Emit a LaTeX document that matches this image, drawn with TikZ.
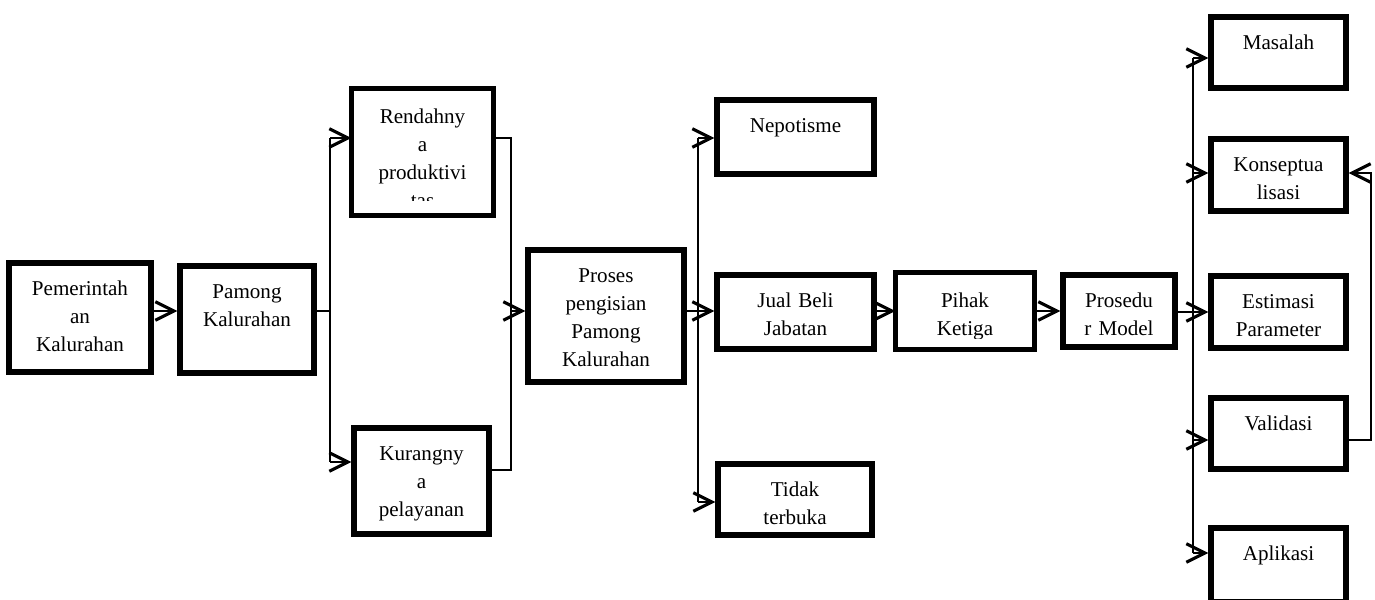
\documentclass[tikz,border=0pt]{standalone}
\usepackage{fontspec}
\setmainfont{Liberation Serif}
\usepackage{tikz}
\usetikzlibrary{arrows.meta}

\tikzset{
  bx/.style 2 args={draw, line width=3pt, inner sep=0pt, align=center,
    text width=#1, text height=0.64cm, text depth=#2},
  ln/.style={line width=0.9pt},
  arr/.style={ln, -{Straight Barb[length=0.37cm,width=0.37cm,line width=1.8pt]}}
}

\begin{document}
\begin{tikzpicture}[x=0.02cm,y=-0.02cm,font=\fontsize{12}{16.1}\selectfont]
\useasboundingbox (0,0) rectangle (1375,599);
% kolom kiri
\node[bx={2.84cm}{1.54cm}] (pem) at (80,317.5) {Pemerintah\\an\\Kalurahan};
\node[bx={2.68cm}{1.50cm}] (pam) at (247,319.5) {Pamong\\Kalurahan};
\begin{scope}
  \clip (340,80) rectangle (505,200.5);
  \node[bx={2.74cm}{1.80cm}, draw=none] (rend) at (422.5,152) {Rendahny\\a\\produktivi\\tas};
\end{scope}
\draw[line width=3pt] (rend.south west) rectangle (rend.north east);
\node[bx={2.70cm}{1.48cm}] (kur) at (421.5,481) {Kurangny\\a\\pelayanan};
\node[bx={3.12cm}{2.00cm}] (pros) at (606,316) {Proses\\pengisian\\Pamong\\Kalurahan};
% kolom tengah
\node[bx={3.14cm}{0.84cm}] (nep) at (795.5,137) {Nepotisme};
\node[bx={3.14cm}{0.84cm}] (jual) at (795.5,312) {Jual Beli\\Jabatan};
\node[bx={3.08cm}{0.78cm}] (tid) at (795,499.5) {Tidak\\terbuka};
\begin{scope}
  \clip (880,260) rectangle (1050,338.5);
  \node[bx={2.68cm}{0.80cm}, draw=none] (pih) at (965,311) {Pihak\\Ketiga};
\end{scope}
\draw[line width=3pt] (pih.south west) rectangle (pih.north east);
\node[bx={2.24cm}{0.80cm}] (pro) at (1119,311) {Prosedu\\r Model};
% kolom kanan
\node[bx={2.70cm}{0.78cm}] (mas) at (1278.5,52.5) {Masalah};
\node[bx={2.70cm}{0.80cm}] (kon) at (1278.5,175) {Konseptua\\lisasi};
\node[bx={2.70cm}{0.80cm}] (est) at (1278.5,312) {Estimasi\\Parameter};
\node[bx={2.70cm}{0.78cm}] (val) at (1278.5,433.5) {Validasi};
\node[bx={2.70cm}{0.84cm}] (apl) at (1278.5,565) {Aplikasi};

% titik cabang
\coordinate (a1) at (330,311);
\coordinate (a2) at (330,138);
\coordinate (a3) at (330,462);
\coordinate (b1) at (511,138);
\coordinate (b2) at (511,470);
\coordinate (b3) at (511,311);
\coordinate (c1) at (698,311);
\coordinate (c2) at (698,138);
\coordinate (c3) at (698,502);
\coordinate (f1) at (1371,440);
\coordinate (f2) at (1371,173);

\draw[arr] (pem.east |- a1) -- (pam.west |- a1);
\draw[ln] (pam.east |- a1) -- (a1);
\draw[ln] (a2) -- (a3);
\draw[arr] (a2) -- (a2 -| rend.west);
\draw[arr] (a3) -- (a3 -| kur.west);
\draw[ln] (b1 -| rend.east) -- (b1) -- (b2) -- (b2 -| kur.east);
\draw[arr] (b3) -- (b3 -| pros.west);
\draw[ln] (pros.east |- c1) -- (c1);
\draw[ln] (c2) -- (c3);
\draw[arr] (c2) -- (c2 -| nep.west);
\draw[arr] (c1) -- (c1 -| jual.west);
\draw[arr] (c3) -- (c3 -| tid.west);
\draw[arr] (jual.east |- c1) -- (pih.west |- c1);
\draw[arr] (pih.east |- c1) -- (pro.west |- c1);
\foreach \n/\y in {mas/58,kon/173,est/312,val/440,apl/553}{
  \coordinate (e-\n) at (1193,\y);
  \draw[arr] (e-\n) -- (e-\n -| \n.west);
}
\draw[ln] (e-mas) -- (e-apl);
\draw[ln] (pro.east |- e-est) -- (e-est);
\draw[arr] (val.east |- f1) -- (f1) -- (f2) -- (f2 -| kon.east);
\end{tikzpicture}
\end{document}
